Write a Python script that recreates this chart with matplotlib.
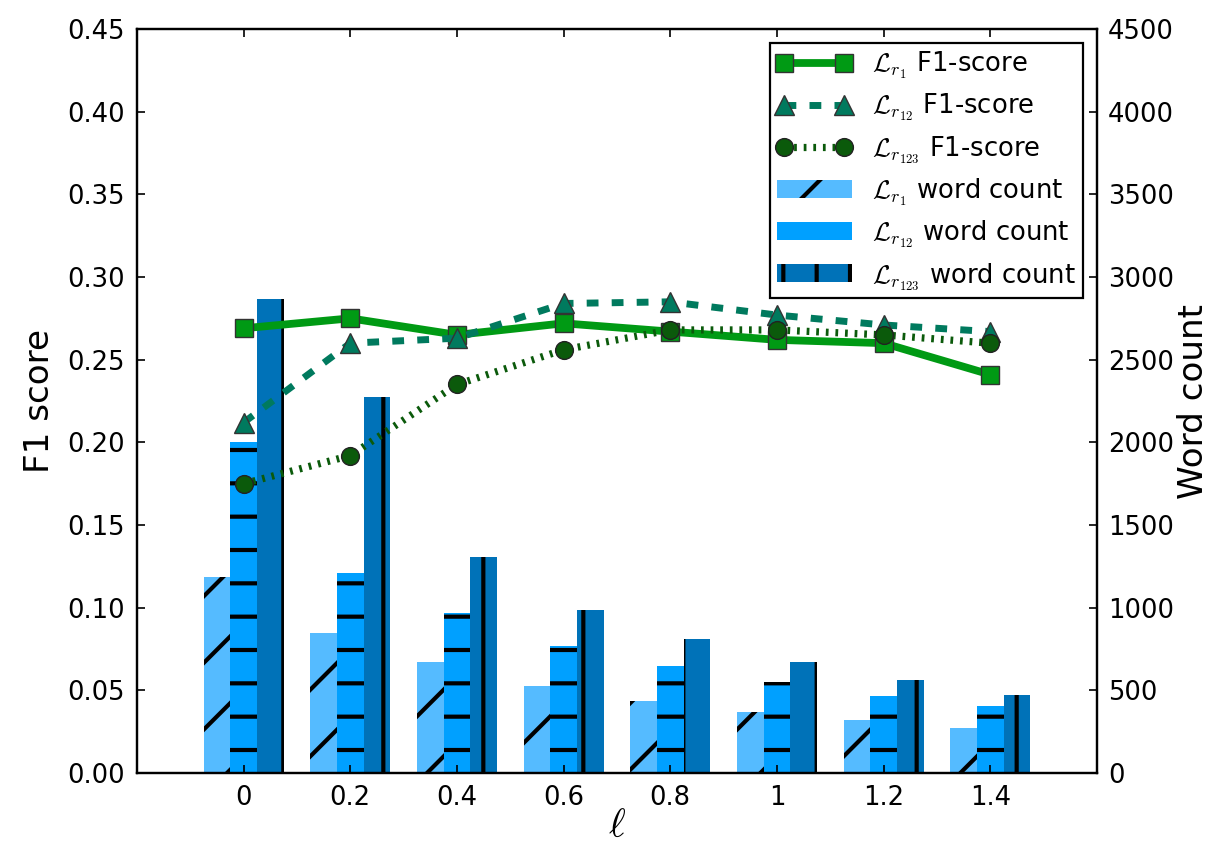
import numpy as np
import matplotlib
matplotlib.use("Agg")
import matplotlib.pyplot as plt

# ---- data ----
ell_labels = ["0", "0.2", "0.4", "0.6", "0.8", "1", "1.2", "1.4"]

f1_r1 = [0.269, 0.275, 0.265, 0.272, 0.267, 0.262, 0.260, 0.241]
f1_r12 = [0.212, 0.260, 0.263, 0.284, 0.285, 0.277, 0.271, 0.267]
f1_r123 = [0.175, 0.192, 0.235, 0.256, 0.268, 0.268, 0.265, 0.260]

wc_r1 = [1185, 847, 671, 528, 435, 367, 319, 272]
wc_r12 = [2005, 1212, 970, 768, 649, 552, 466, 407]
wc_r123 = [2865, 2275, 1307, 986, 810, 673, 562, 472]

plt.rcParams['font.family'] = ['DejaVu Sans']
plt.rcParams['mathtext.fontset'] = 'cm'
plt.rcParams['hatch.linewidth'] = 1.5

fig = plt.figure(figsize=(6.06, 4.22), dpi=200)
ax1 = fig.add_axes([0.113, 0.0841, 0.792, 0.8815])
ax2 = ax1.twinx()

x = np.arange(len(ell_labels))
w = 0.25

# bars on the right axis (word count)
b1 = ax2.bar(x - w, wc_r1, w, color='#55bbff', edgecolor='black', linewidth=0,
             hatch='/', label=r'$\mathcal{L}_{r_1}$ word count')
b2 = ax2.bar(x, wc_r12, w, color='#00a0ff', edgecolor='black', linewidth=0,
             hatch='-', label=r'$\mathcal{L}_{r_{12}}$ word count')
b3 = ax2.bar(x + w, wc_r123, w, color='#0072b8', edgecolor='black', linewidth=0,
             hatch='|', label=r'$\mathcal{L}_{r_{123}}$ word count')

# F1 lines on the left axis, kept on top of the bars
l1, = ax1.plot(x, f1_r1, '-', color='#009a14', lw=2.8, marker='s', ms=6.6,
               mec='#333333', mew=0.5, label=r'$\mathcal{L}_{r_1}$ F1-score')
l2, = ax1.plot(x, f1_r12, '--', color='#007a5e', lw=2.5, marker='^', ms=7,
               mec='#333333', mew=0.5, dashes=(1.7, 1.9),
               label=r'$\mathcal{L}_{r_{12}}$ F1-score')
l3, = ax1.plot(x, f1_r123, ':', color='#0b5a0b', lw=2.6, marker='o', ms=6.4,
               mec='#222222', mew=0.5, dashes=(0.38, 0.95),
               label=r'$\mathcal{L}_{r_{123}}$ F1-score')

ax1.set_zorder(ax2.get_zorder() + 1)
ax1.patch.set_visible(False)

ax1.set_xlim(-1, 8)
ax1.set_ylim(0, 0.45)
ax1.set_yticks(np.arange(0, 0.451, 0.05))
ax1.set_yticklabels(["%.2f" % v for v in np.arange(0, 0.451, 0.05)])
ax2.set_ylim(0, 4500)
ax2.set_yticks(np.arange(0, 4501, 500))

ax1.set_xticks(x)
ax1.set_xticklabels(ell_labels)

ax1.tick_params(direction='in', length=3, width=0.6, labelsize=9.3, pad=4.3,
                top=True)
ax2.tick_params(direction='in', length=3, width=0.6, labelsize=9.3, pad=4.0)

ax1.set_xlabel(r'$\ell$', fontsize=14.5, labelpad=-2)
ax1.set_ylabel('F1 score', fontsize=12.3, labelpad=4)
ax2.set_ylabel('Word count', fontsize=12.3, labelpad=1)

for a in (ax1, ax2):
    for spine in a.spines.values():
        spine.set_linewidth(0.8)
        spine.set_color('black')

leg = ax1.legend(handles=[l1, l2, l3, b1, b2, b3], loc='upper right',
                 numpoints=2, fontsize=9.3, handlelength=2.9,
                 handletextpad=0.8, labelspacing=0.42, borderaxespad=0.55,
                 borderpad=0.25, fancybox=False, framealpha=1,
                 edgecolor='black')
leg.get_frame().set_linewidth(0.8)

fig.savefig("out.png", dpi=200)
